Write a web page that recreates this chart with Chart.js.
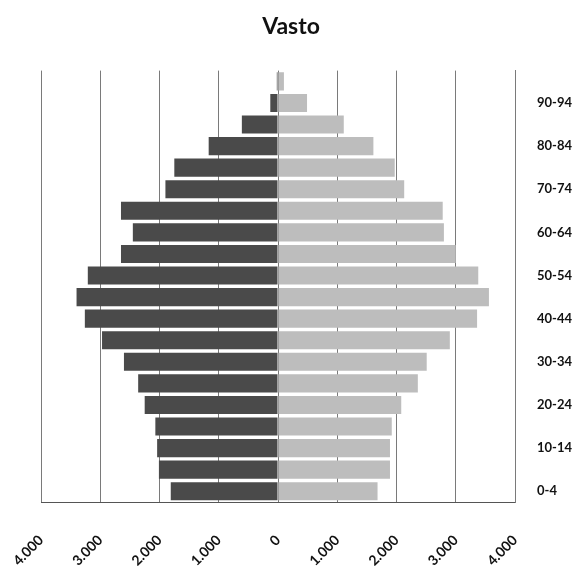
<!DOCTYPE html>
<html>
<head>
<meta charset="utf-8">
<script src="https://cdn.jsdelivr.net/npm/chart.js@4"></script>
<style>
  html, body { margin: 0; padding: 0; background: #fff; }
  #wrap { width: 582px; height: 569px; }
</style>
</head>
<body>
<div id="wrap"><canvas id="pyramid" width="582" height="569"></canvas></div>
<script>
// age classes, bottom (0-4) to top (95+)
const AGE_GROUPS = ["0-4", "5-9", "10-14", "15-19", "20-24", "25-29", "30-34", "35-39", "40-44", "45-49",
                    "50-54", "55-59", "60-64", "65-69", "70-74", "75-79", "80-84", "85-89", "90-94", "95+"];
// males drawn to the left
const MALES = [1810, 2010, 2040, 2070, 2250, 2360, 2600, 2970, 3260, 3400,
               3210, 2650, 2450, 2650, 1900, 1750, 1170, 610, 130, 20];
// females drawn to the right
const FEMALES = [1680, 1890, 1890, 1920, 2080, 2360, 2510, 2900, 3360, 3560,
                 3380, 3000, 2800, 2780, 2130, 1970, 1610, 1110, 490, 100];
const X_TICKS = [-4000, -3000, -2000, -1000, 0, 1000, 2000, 3000, 4000];

const FONT = "Lato, 'Open Sans', 'DejaVu Sans', sans-serif";

//thousands with a dot, like the italian original
function fmt(v) {
    let s = String(Math.abs(v));
    return s.replace(/\B(?=(\d{3})+(?!\d))/g, ".");
}

const ctx = document.getElementById("pyramid").getContext("2d");
const chart = new Chart(ctx, {
    type: "bar",
    data: {
        labels: AGE_GROUPS,
        datasets: [
            {
                label: "Maschi",
                data: MALES.map(v => -v),
                backgroundColor: "#4a4a4a",
                barPercentage: 0.84,
                categoryPercentage: 1.0
            },
            {
                label: "Femmine",
                data: FEMALES,
                backgroundColor: "#bdbdbd",
                barPercentage: 0.84,
                categoryPercentage: 1.0
            }
        ]
    },
    options: {
        indexAxis: "y",
        responsive: false,
        animation: false,
        layout: { padding: 0 },
        plugins: {
            legend: { display: false },
            tooltip: { enabled: false },
            title: {
                display: true,
                text: "Vasto",
                color: "#111",
                font: { family: FONT, size: 23, weight: "bold" },
                padding: { top: 13, bottom: 30 }
            }
        },
        scales: {
            x: {
                stacked: true,
                min: -4000,
                max: 4000,
                afterBuildTicks: function (axis) {
                    axis.ticks = X_TICKS.map(v => ({ value: v }));
                },
                //fixed height, and no extra room for the slanted first label
                afterFit: function (axis) {
                    axis.height = 67;
                    axis.paddingLeft = 0;
                    axis.paddingRight = 0;
                },
                grid: { color: "#7a7a7a", lineWidth: 1, drawTicks: false },
                border: { color: "#555", width: 1 },
                ticks: {
                    minRotation: 45,
                    maxRotation: 45,
                    padding: 30,
                    color: "#111",
                    font: { family: FONT, size: 14, weight: "bold" },
                    callback: function (v) { return fmt(v); }
                }
            },
            y: {
                stacked: true,
                position: "right",
                reverse: true,
                afterFit: function (axis) { axis.width = 67; },
                grid: { display: false, drawTicks: false },
                border: { color: "#7a7a7a", width: 1 },
                ticks: {
                    autoSkip: false,
                    padding: 22,
                    color: "#111",
                    font: { family: FONT, size: 13, weight: "bold" },
                    callback: function (v, i) { return i % 2 === 0 ? AGE_GROUPS[i] : ""; }
                }
            },
            // empty left axis, only keeps the margin on the left
            yLeft: {
                type: "category",
                position: "left",
                afterFit: function (axis) { axis.width = 41; },
                grid: { display: false, drawTicks: false },
                border: { display: false },
                ticks: { display: false }
            }
        }
    }
});
</script>
</body>
</html>
